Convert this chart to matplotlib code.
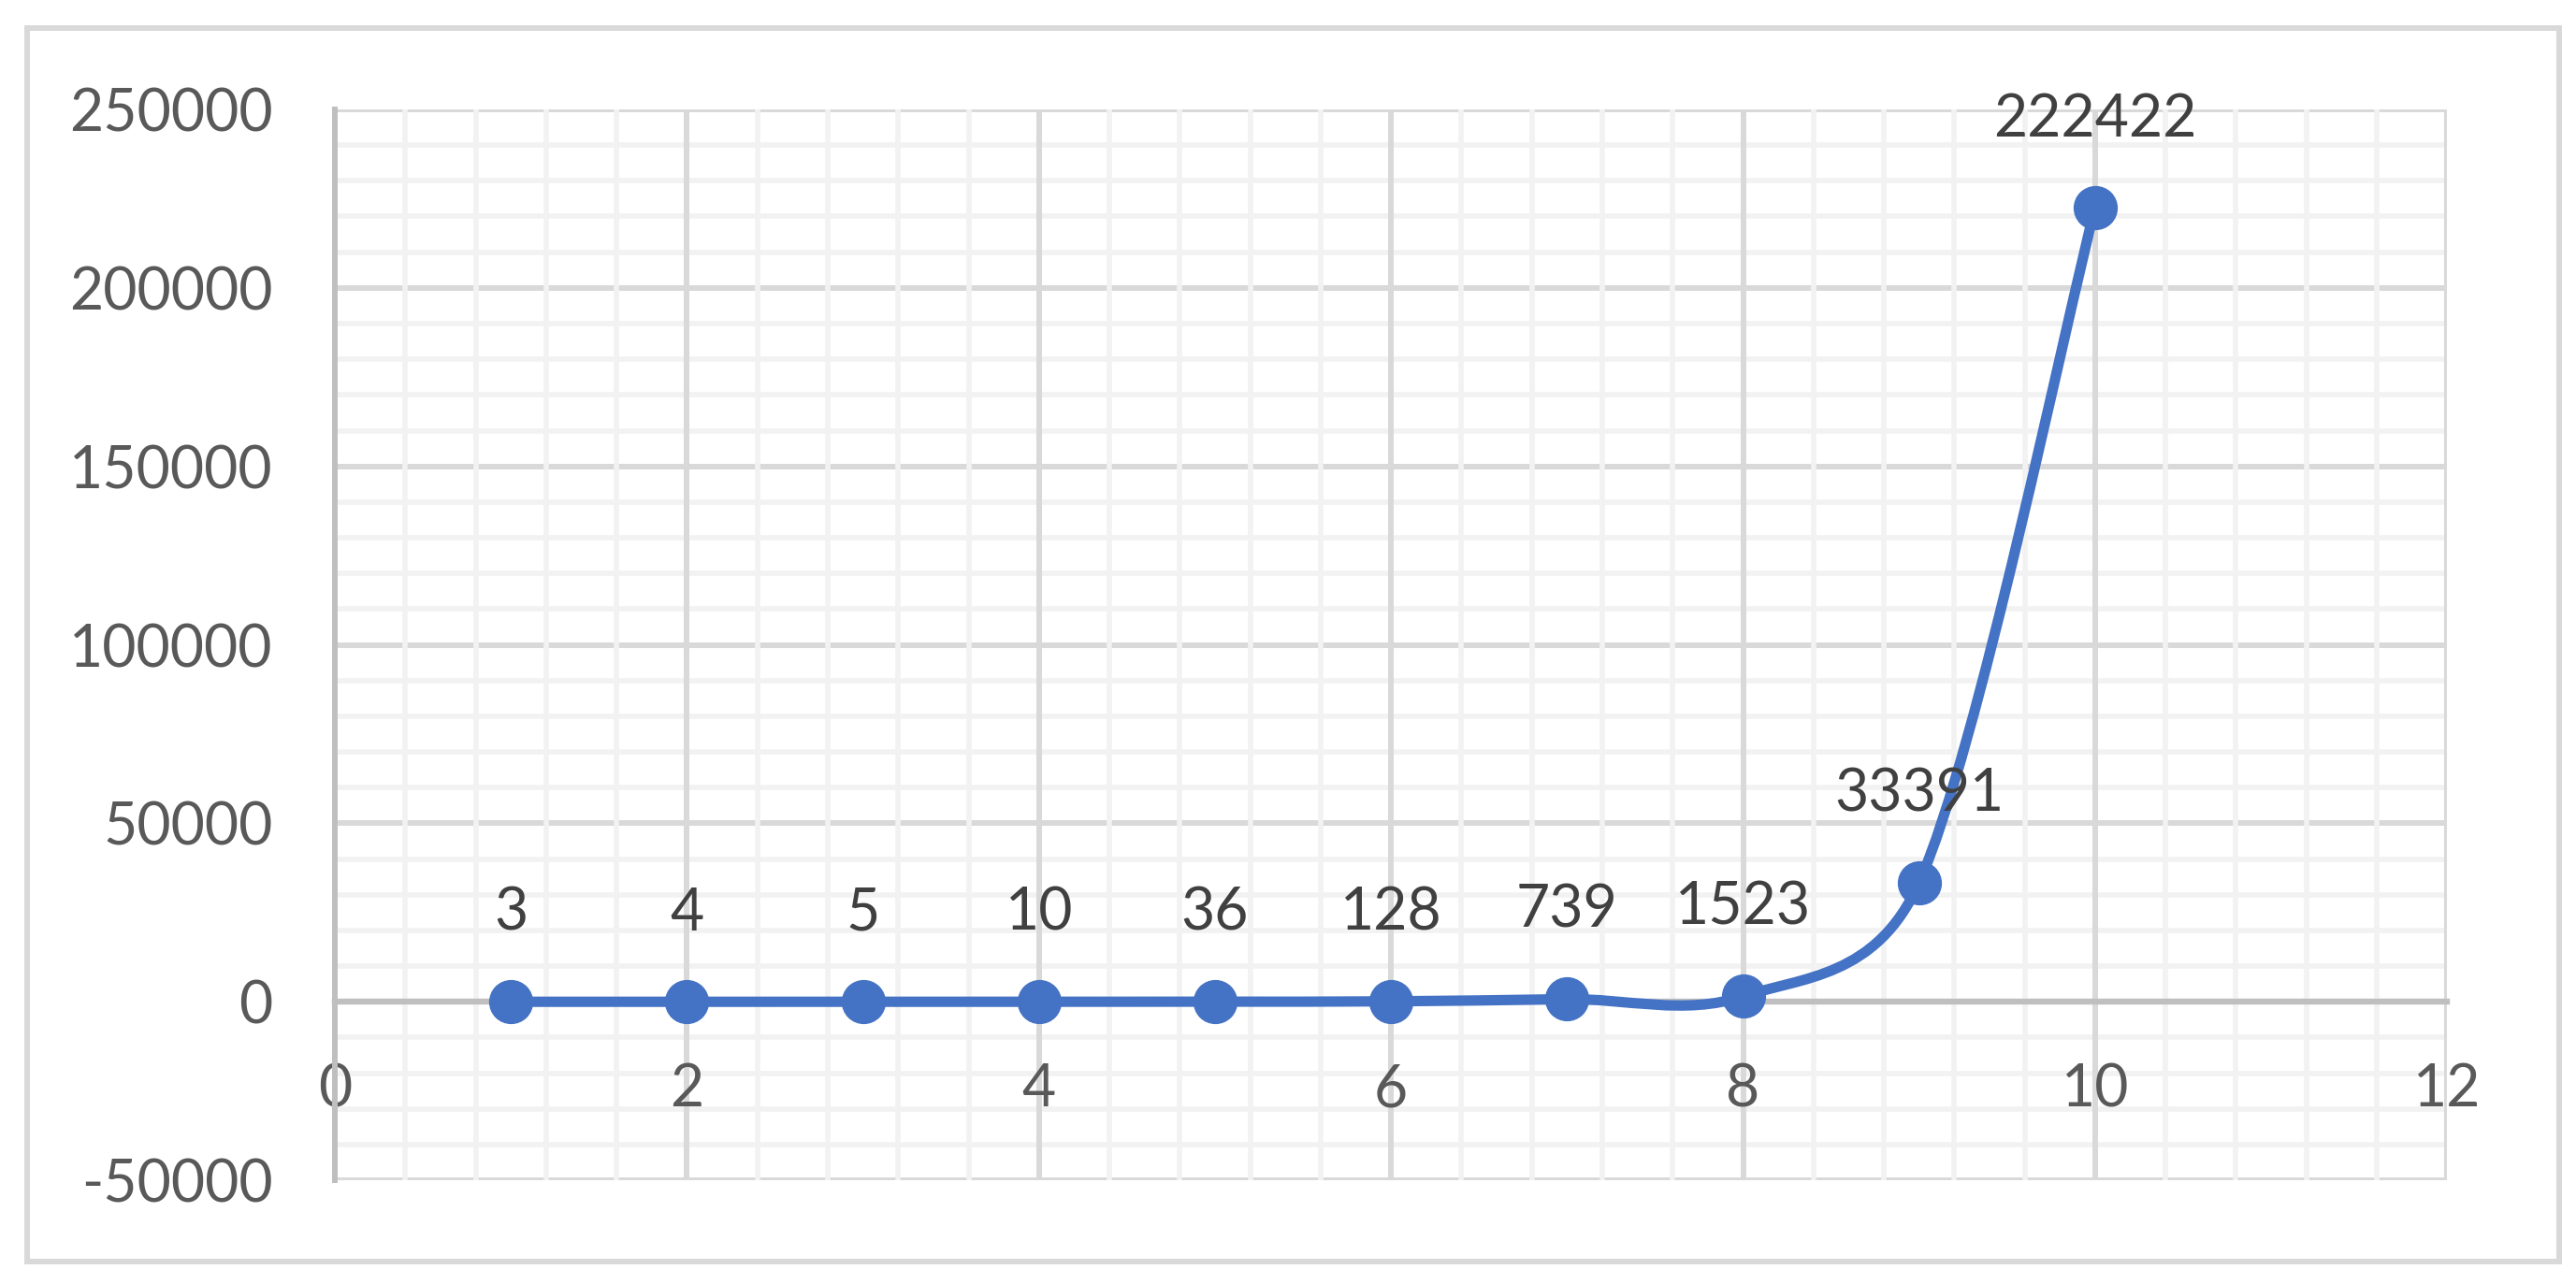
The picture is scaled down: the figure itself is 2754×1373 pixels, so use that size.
import math

import matplotlib

matplotlib.use("Agg")
import matplotlib.pyplot as plt
from matplotlib.path import Path
from matplotlib.patches import PathPatch, Rectangle
from matplotlib.ticker import MultipleLocator

# data
x_values = [1, 2, 3, 4, 5, 6, 7, 8, 9, 10]
y_values = [3, 4, 5, 10, 36, 128, 739, 1523, 33391, 222422]

x_limits = (0, 12)
y_limits = (-50000, 250000)

BLUE = "#4472C4"
TICK_GREY = "#595959"
LABEL_GREY = "#404040"

plt.rcParams["font.family"] = ["Lato", "DejaVu Sans"]
plt.rcParams["axes.unicode_minus"] = False


def smooth_path(ax, xs, ys):
    # Excel-style smoothed line, worked out in pixel space: cubic Bezier
    # with 1/6 tangents, arms clamped to half the segment length
    pts = ax.transData.transform(list(zip(xs, ys)))
    n = len(pts)

    def dist(a, b):
        return math.hypot(b[0] - a[0], b[1] - a[1])

    verts = [tuple(pts[0])]
    codes = [Path.MOVETO]
    for i in range(n - 1):
        p0 = pts[max(i - 1, 0)]
        p1 = pts[i]
        p2 = pts[i + 1]
        p3 = pts[min(i + 2, n - 1)]
        d12 = dist(p1, p2)
        d02 = dist(p0, p2)
        d13 = dist(p1, p3)
        f1 = 1 / 6 if d02 / 6 < d12 / 2 else d12 / (2 * d02)
        f2 = 1 / 6 if d13 / 6 < d12 / 2 else d12 / (2 * d13)
        c1 = (p1[0] + f1 * (p2[0] - p0[0]), p1[1] + f1 * (p2[1] - p0[1]))
        c2 = (p2[0] - f2 * (p3[0] - p1[0]), p2[1] - f2 * (p3[1] - p1[1]))
        verts += [c1, c2, tuple(p2)]
        codes += [Path.CURVE4] * 3
    data_verts = ax.transData.inverted().transform(verts)
    return Path(data_verts, codes)


fig = plt.figure(figsize=(27.54, 13.73), dpi=100)
ax = fig.add_axes([0.130, 0.0808, 0.820, 0.834])

# outer chart border
fig.patches.append(
    Rectangle((0.0105, 0.0175), 0.983, 0.9605, transform=fig.transFigure,
              fill=False, edgecolor="#d9d9d9", linewidth=4.3)
)

ax.set_xlim(*x_limits)
ax.set_ylim(*y_limits)
ax.xaxis.set_major_locator(MultipleLocator(2))
ax.xaxis.set_minor_locator(MultipleLocator(0.4))
ax.yaxis.set_major_locator(MultipleLocator(50000))
ax.yaxis.set_minor_locator(MultipleLocator(10000))

ax.grid(which="minor", color="#f2f2f2", linewidth=4.0)
ax.grid(which="major", color="#d9d9d9", linewidth=4.3)
ax.set_axisbelow(True)
ax.xaxis.set_zorder(0.6)

for side in ("top", "right"):
    ax.spines[side].set_visible(False)
ax.spines["left"].set_color("#bfbfbf")
ax.spines["left"].set_linewidth(4.3)
ax.spines["bottom"].set_position(("data", 0))
ax.spines["bottom"].set_color("#bfbfbf")
ax.spines["bottom"].set_linewidth(4.6)
ax.spines["bottom"].set_zorder(1)

ax.tick_params(which="both", length=0)
ax.tick_params(axis="y", pad=48, labelsize=45, labelcolor=TICK_GREY)
ax.tick_params(axis="x", pad=47, labelsize=45, labelcolor=TICK_GREY)

ax.add_patch(PathPatch(smooth_path(ax, x_values, y_values), facecolor="none",
                       edgecolor=BLUE, linewidth=8, capstyle="round",
                       joinstyle="round", zorder=3))
ax.plot(x_values, y_values, linestyle="none", marker="o", markersize=33,
        color=BLUE, zorder=4, clip_on=False)

for xv, yv in zip(x_values, y_values):
    ax.annotate(str(yv), (xv, yv), xytext=(0, 68), textcoords="offset points",
                ha="center", va="center", fontsize=45, color=LABEL_GREY,
                annotation_clip=False, zorder=5)

fig.savefig("out.png", dpi=100, facecolor="white")
